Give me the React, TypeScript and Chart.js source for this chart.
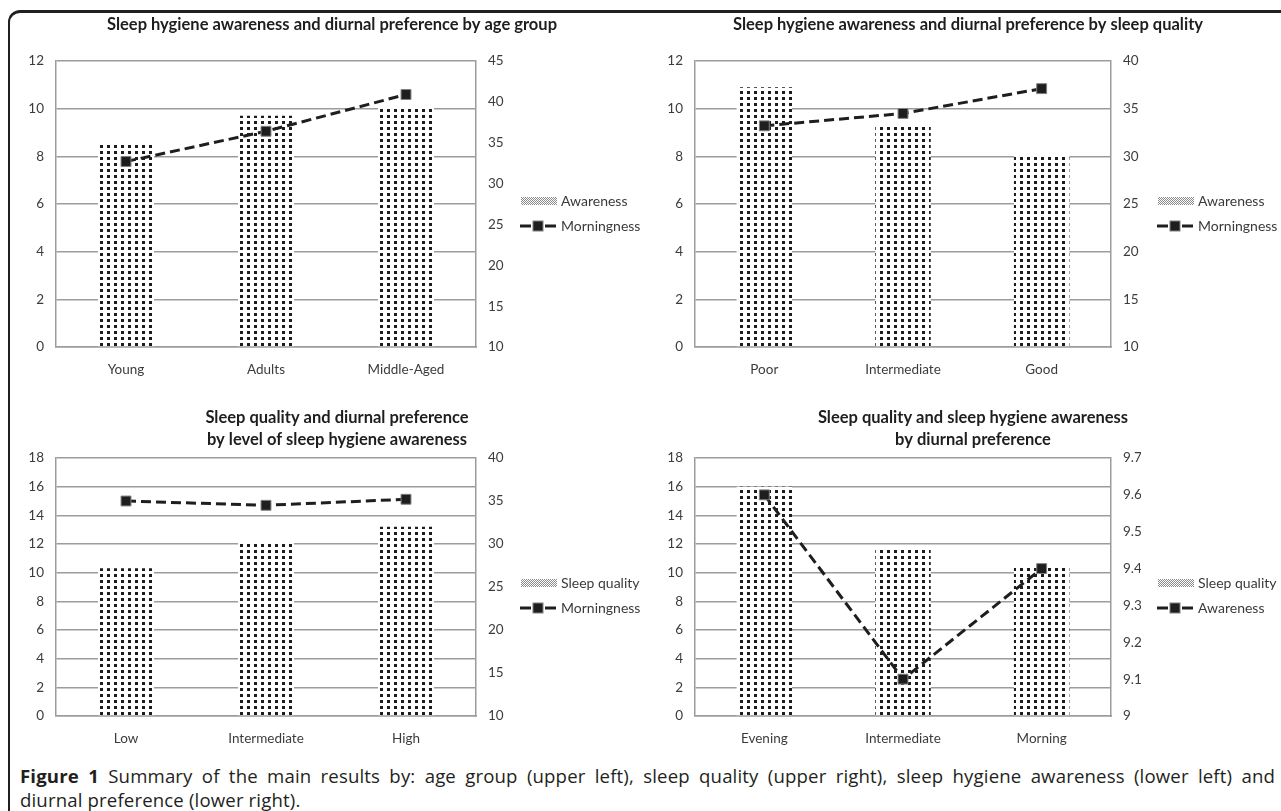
import React, { useEffect, useRef } from "react";
import { Chart, registerables } from "chart.js";

Chart.register(...registerables);

// ---------- data ----------
const ageGroups = ["Young", "Adults", "Middle-Aged"];
const ageAwareness = [8.6, 9.7, 10.1];
const ageMorningness = [32.7, 36.4, 40.9];

const qualityGroups = ["Poor", "Intermediate", "Good"];
const qualityAwareness = [10.9, 9.3, 8.1];
const qualityMorningness = [33.2, 34.5, 37.1];

const awarenessLevels = ["Low", "Intermediate", "High"];
const levelSleepQuality = [10.3, 12.1, 13.2];
const levelMorningness = [35.0, 34.5, 35.2];

const diurnalGroups = ["Evening", "Intermediate", "Morning"];
const diurnalSleepQuality = [16.0, 11.7, 10.5];
const diurnalAwareness = [9.6, 9.1, 9.4];

const titleTL = ["Sleep hygiene awareness and diurnal preference by age group"];
const titleTR = ["Sleep hygiene awareness and diurnal preference by sleep quality"];
const titleBL = ["Sleep quality and diurnal preference", "by level of sleep hygiene awareness"];
const titleBR = ["Sleep quality and sleep hygiene awareness", "by diurnal preference"];

const FONT = "Lato, 'Open Sans', sans-serif";
const GRID = "#9c9c9c";
const TICK = "#3c3c3c";

function dotPattern(ctx: CanvasRenderingContext2D) {
  const c = document.createElement("canvas");
  c.width = 7;
  c.height = 6;
  const g = c.getContext("2d")!;
  g.fillStyle = "#ffffff";
  g.fillRect(0, 0, 7, 6);
  g.fillStyle = "#1c1c1c";
  g.fillRect(2, 1, 3, 3);
  return ctx.createPattern(c, "repeat")!;
}

function swatchPattern(ctx: CanvasRenderingContext2D) {
  const c = document.createElement("canvas");
  c.width = 2;
  c.height = 2;
  const g = c.getContext("2d")!;
  g.fillStyle = "#ffffff";
  g.fillRect(0, 0, 2, 2);
  g.fillStyle = "#8a8a8a";
  g.fillRect(0, 0, 1, 1);
  g.fillRect(1, 1, 1, 1);
  return ctx.createPattern(c, "repeat")!;
}

const decor = {
  id: "decor",
  afterDraw(chart: any, _args: any, opts: any) {
    const ctx: CanvasRenderingContext2D = chart.ctx;
    ctx.save();
    // title
    ctx.font = `bold 16.5px ${FONT}`;
    ctx.fillStyle = "#1e1e1e";
    ctx.textAlign = "center";
    ctx.textBaseline = "middle";
    (opts.title as string[]).forEach((t, i) => ctx.fillText(t, opts.titleX, opts.titleY + i * 22));
    // legend
    const ca = chart.chartArea;
    const cy = (ca.top + ca.bottom) / 2 + opts.legendDy;
    const x0 = opts.legendX;
    const ds = chart.data.datasets;
    ctx.fillStyle = swatchPattern(ctx);
    ctx.fillRect(x0 + 1, cy - 4, 36, 8);
    const y2 = cy + 25;
    ctx.strokeStyle = "#1e1e1e";
    ctx.lineWidth = 3;
    ctx.beginPath();
    ctx.moveTo(x0, y2);
    ctx.lineTo(x0 + 11, y2);
    ctx.moveTo(x0 + 25, y2);
    ctx.lineTo(x0 + 36, y2);
    ctx.stroke();
    ctx.fillStyle = "#1e1e1e";
    ctx.fillRect(x0 + 13, y2 - 5, 10, 10);
    ctx.strokeStyle = "#808080";
    ctx.lineWidth = 1;
    ctx.strokeRect(x0 + 13, y2 - 5, 10, 10);
    ctx.font = `14px ${FONT}`;
    ctx.fillStyle = "#3a3a3a";
    ctx.textAlign = "left";
    ctx.fillText(ds[0].label, x0 + 41, cy);
    ctx.fillText(ds[1].label, x0 + 41, y2);
    ctx.restore();
  },
};

type PanelProps = {
  left: number;
  top: number;
  width: number;
  height: number;
  pad: { left: number; right: number; top: number; bottom: number };
  title: string[];
  titleX: number;
  titleY: number;
  legendX: number;
  legendDy: number;
  labels: string[];
  barLabel: string;
  bars: number[];
  lineLabel: string;
  line: number[];
  yMax: number;
  yStep: number;
  y1Min: number;
  y1Max: number;
  y1Step: number;
};

function Panel(p: PanelProps) {
  const ref = useRef<HTMLCanvasElement | null>(null);
  useEffect(() => {
    const canvas = ref.current!;
    const ctx = canvas.getContext("2d")!;
    const tickFont = { family: FONT, size: 13.5 };
    const chart = new Chart(ctx, {
      type: "bar",
      data: {
        labels: p.labels,
        datasets: [
          {
            type: "bar",
            label: p.barLabel,
            data: p.bars,
            yAxisID: "y",
            backgroundColor: dotPattern(ctx),
            borderWidth: 0,
            barPercentage: 0.4,
            categoryPercentage: 1.0,
            order: 1,
          } as any,
          {
            type: "line",
            label: p.lineLabel,
            data: p.line,
            yAxisID: "y1",
            borderColor: "#1e1e1e",
            borderWidth: 3,
            borderDash: [10, 5],
            pointStyle: "rect",
            pointRadius: 7,
            pointBackgroundColor: "#1e1e1e",
            pointBorderColor: "#808080",
            pointBorderWidth: 1,
            fill: false,
            tension: 0,
            order: 0,
          } as any,
        ],
      },
      options: {
        animation: false,
        responsive: false,
        devicePixelRatio: 1,
        layout: { padding: p.pad },
        plugins: {
          legend: { display: false },
          title: { display: false },
          tooltip: { enabled: false },
          decor: {
            title: p.title,
            titleX: p.titleX,
            titleY: p.titleY,
            legendX: p.legendX,
            legendDy: p.legendDy,
          },
        } as any,
        scales: {
          x: {
            grid: { display: false, drawTicks: false },
            border: { display: true, color: GRID, width: 1.5 },
            ticks: { color: TICK, font: tickFont, padding: 15 },
            afterFit: (s: any) => {
              s.height = 30;
            },
          },
          y: {
            position: "left",
            min: 0,
            max: p.yMax,
            ticks: { stepSize: p.yStep, color: TICK, font: tickFont, padding: 12 },
            grid: { color: GRID, lineWidth: 1.5, drawTicks: false },
            border: { display: true, color: GRID, width: 1.5 },
            afterFit: (s: any) => {
              s.width = 45;
            },
          },
          y1: {
            position: "right",
            min: p.y1Min,
            max: p.y1Max,
            ticks: {
              stepSize: p.y1Step,
              color: TICK,
              font: tickFont,
              padding: 12,
              callback: (v: any) => String(Math.round(Number(v) * 10) / 10),
            },
            grid: { display: false, drawTicks: false },
            border: { display: true, color: GRID, width: 1.5 },
            afterFit: (s: any) => {
              s.width = 30;
            },
          },
        },
      },
      plugins: [decor],
    });
    return () => chart.destroy();
  }, []);
  return (
    <canvas
      ref={ref}
      width={p.width}
      height={p.height}
      style={{ position: "absolute", left: p.left, top: p.top, width: p.width, height: p.height }}
    />
  );
}

export default function App() {
  const topPad = { left: 11, right: 134, top: 61, bottom: 3 };
  const topPadR = { left: 10, right: 139, top: 61, bottom: 3 };
  const botPad = { left: 11, right: 134, top: 83, bottom: 3 };
  const botPadR = { left: 10, right: 139, top: 83, bottom: 3 };
  return (
    <div
      style={{
        position: "fixed",
        left: 0,
        top: 0,
        width: 1281,
        height: 811,
        overflow: "hidden",
        background: "#ffffff",
      }}
    >
      <div
        style={{
          position: "absolute",
          left: 8,
          top: 10,
          width: 1300,
          height: 840,
          borderTop: "3px solid #231f20",
          borderLeft: "2px solid #231f20",
          borderTopLeftRadius: 12,
          boxSizing: "border-box",
        }}
      />
      <Panel
        left={0}
        top={0}
        width={640}
        height={380}
        pad={topPad}
        title={titleTL}
        titleX={332}
        titleY={25}
        legendX={520}
        legendDy={-3}
        labels={ageGroups}
        barLabel="Awareness"
        bars={ageAwareness}
        lineLabel="Morningness"
        line={ageMorningness}
        yMax={12}
        yStep={2}
        y1Min={10}
        y1Max={45}
        y1Step={5}
      />
      <Panel
        left={640}
        top={0}
        width={640}
        height={380}
        pad={topPadR}
        title={titleTR}
        titleX={328}
        titleY={25}
        legendX={517}
        legendDy={-3}
        labels={qualityGroups}
        barLabel="Awareness"
        bars={qualityAwareness}
        lineLabel="Morningness"
        line={qualityMorningness}
        yMax={12}
        yStep={2}
        y1Min={10}
        y1Max={40}
        y1Step={5}
      />
      <Panel
        left={0}
        top={375}
        width={640}
        height={374}
        pad={botPad}
        title={titleBL}
        titleX={337}
        titleY={43}
        legendX={520}
        legendDy={-4}
        labels={awarenessLevels}
        barLabel="Sleep quality"
        bars={levelSleepQuality}
        lineLabel="Morningness"
        line={levelMorningness}
        yMax={18}
        yStep={2}
        y1Min={10}
        y1Max={40}
        y1Step={5}
      />
      <Panel
        left={640}
        top={375}
        width={640}
        height={374}
        pad={botPadR}
        title={titleBR}
        titleX={333}
        titleY={43}
        legendX={517}
        legendDy={-4}
        labels={diurnalGroups}
        barLabel="Sleep quality"
        bars={diurnalSleepQuality}
        lineLabel="Awareness"
        line={diurnalAwareness}
        yMax={18}
        yStep={2}
        y1Min={9}
        y1Max={9.7}
        y1Step={0.1}
      />
      <div
        style={{
          position: "absolute",
          left: 20,
          top: 764,
          width: 1255,
          fontFamily: "'Open Sans', 'Noto Sans', sans-serif",
          fontSize: 18.6,
          letterSpacing: "0.15px",
          lineHeight: "24px",
          color: "#231f20",
        }}
      >
        <div style={{ textAlign: "justify", textAlignLast: "justify", whiteSpace: "nowrap" as any }}>
          <b>Figure 1</b> Summary of the main results by: age group (upper left), sleep quality (upper right), sleep
          hygiene awareness (lower left) and
        </div>
        <div>diurnal preference (lower right).</div>
      </div>
    </div>
  );
}
